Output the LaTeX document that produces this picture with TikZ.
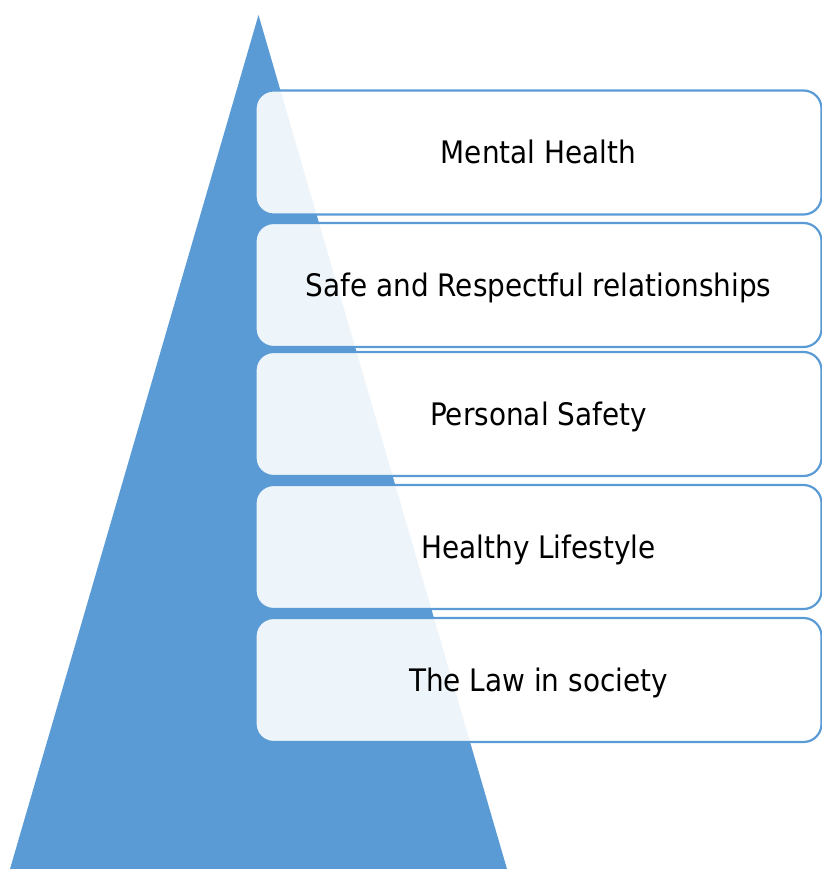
\documentclass[tikz,border=0pt]{standalone}
\usepackage{fontspec}
\setmainfont{DejaVu Sans}[FakeStretch=0.9]
\definecolor{pyrblue}{HTML}{5B9BD5}

\begin{document}
\begin{tikzpicture}[x=1pt, y=-1pt,
        topic/.style={draw=pyrblue, line width=2.2pt, fill=white, fill opacity=0.9, text opacity=1,
            rounded corners=18pt, minimum width=566pt, minimum height=124pt,
            text height=23pt, text depth=0pt,
            font=\fontsize{31}{37}\selectfont}]
                \useasboundingbox (0, 0) rectangle (821, 869);
                \fill[pyrblue] (258.5, 15) -- (10, 869) -- (507, 869) -- cycle;
                \node[topic] (mental) at (538.5, 152.5) {Mental Health};
                \node[topic] (relations) at (538.5, 285) {Safe and Respectful relationships};
                \node[topic] (safety) at (538.5, 414) {Personal Safety};
                \node[topic] (lifestyle) at (538.5, 547) {Healthy Lifestyle};
                \node[topic] (law) at (538.5, 680) {The Law in society};
            \end{tikzpicture}
\end{document}
